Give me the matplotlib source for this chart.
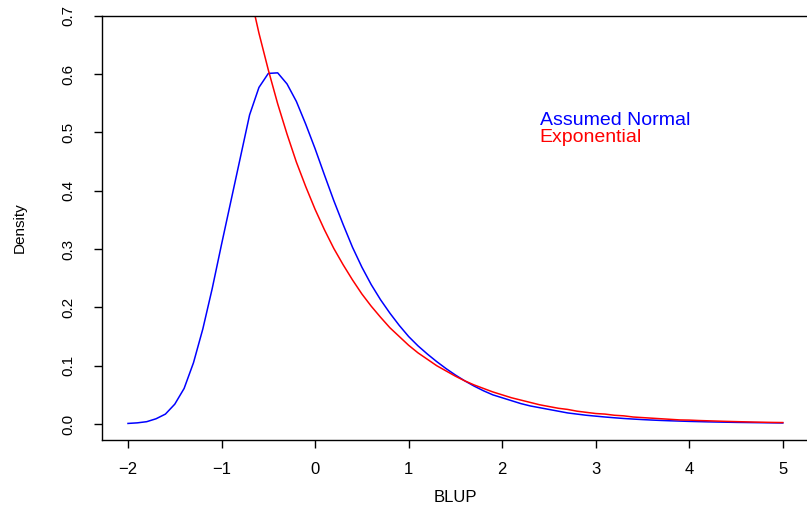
import matplotlib
matplotlib.use("Agg")
import matplotlib.pyplot as plt
import numpy as np

plt.rcParams['font.family'] = ['Liberation Sans', 'DejaVu Sans']

# x grid for the "Assumed Normal" curve (step 0.1 from -2 to 5)
x_normal = [round(-2.0 + 0.1 * i, 1) for i in range(71)]
y_normal = [
    0.001, 0.002, 0.004, 0.009, 0.017, 0.034, 0.061, 0.105, 0.163, 0.232,   # -2.0 .. -1.1
    0.308, 0.382, 0.456, 0.530, 0.577, 0.601, 0.602, 0.583, 0.553, 0.514,   # -1.0 .. -0.1
    0.472, 0.427, 0.383, 0.342, 0.303, 0.269, 0.239, 0.213, 0.190, 0.169,   # 0.0 .. 0.9
    0.150, 0.134, 0.120, 0.107, 0.095, 0.084, 0.074, 0.065, 0.057, 0.050,   # 1.0 .. 1.9
    0.045, 0.040, 0.035, 0.031, 0.028, 0.025, 0.022, 0.019, 0.017, 0.015,   # 2.0 .. 2.9
    0.0135, 0.012, 0.0107, 0.0095, 0.0085, 0.0076, 0.0068, 0.0061, 0.0055, 0.005,  # 3.0 .. 3.9
    0.0045, 0.0041, 0.0037, 0.0034, 0.0031, 0.0028, 0.0026, 0.0024, 0.0022, 0.002,  # 4.0 .. 4.9
    0.0018,                                                                   # 5.0
]

# x grid for the "Exponential" curve (visible part, step 0.1 from -0.7 to 5)
x_expo = [round(-0.7 + 0.1 * i, 1) for i in range(58)]
y_expo = [
    0.741, 0.670, 0.607, 0.549, 0.497, 0.449, 0.407,                          # -0.7 .. -0.1
    0.368, 0.333, 0.301, 0.273, 0.247, 0.223, 0.202, 0.183, 0.165, 0.150,    # 0.0 .. 0.9
    0.135, 0.122, 0.111, 0.100, 0.091, 0.082, 0.074, 0.067, 0.061, 0.055,    # 1.0 .. 1.9
    0.050, 0.045, 0.041, 0.037, 0.033, 0.030, 0.027, 0.025, 0.022, 0.020,    # 2.0 .. 2.9
    0.018, 0.017, 0.015, 0.014, 0.012, 0.011, 0.010, 0.009, 0.008, 0.007,    # 3.0 .. 3.9
    0.0067, 0.006, 0.0055, 0.005, 0.0045, 0.0041, 0.0037, 0.0033, 0.003, 0.0027,  # 4.0 .. 4.9
    0.0025,                                                                   # 5.0
]

x_ticks = [-2, -1, 0, 1, 2, 3, 4, 5]
y_ticks = [0.0, 0.1, 0.2, 0.3, 0.4, 0.5, 0.6, 0.7]
y_tick_labels = ["0.0", "0.1", "0.2", "0.3", "0.4", "0.5", "0.6", "0.7"]
legend_labels = ["Assumed Normal", "Exponential"]
colors = ["#0000FF", "#FF0000"]

W, H = 807, 505
fig = plt.figure(figsize=(W / 100, H / 100), dpi=100)
left_px, right_px, top_px, bottom_px = 101.8, 809.0, 15.5, 440.0
ax = fig.add_axes([left_px / W, 1 - bottom_px / H,
                   (right_px - left_px) / W, (bottom_px - top_px) / H])

ax.plot(x_normal, y_normal, color=colors[0], lw=1.1)
ax.plot(x_expo, y_expo, color=colors[1], lw=1.1)

ax.set_xlim(-2.28, 5.28)
ax.set_ylim(-0.0274, 0.7003)

for s in ax.spines.values():
    s.set_linewidth(1.0)
    s.set_color("black")

ax.set_xticks(x_ticks)
ax.set_xticklabels([("\u2212%d" % -v) if v < 0 else str(v) for v in x_ticks])
ax.set_yticks(y_ticks)
ax.set_yticklabels(y_tick_labels, rotation=90, va="center")
ax.tick_params(axis="x", direction="out", length=5.8, width=1.0, pad=9.7, labelsize=12)
ax.tick_params(axis="y", direction="out", length=5.8, width=1.0, pad=13.5, labelsize=11)

ax.set_xlabel("BLUP", fontsize=12, labelpad=10)
ax.set_ylabel("Density", fontsize=11, labelpad=25)

ax.text(2.40, 0.521, legend_labels[0], color=colors[0], fontsize=14, va="center", ha="left")
ax.text(2.40, 0.491, legend_labels[1], color=colors[1], fontsize=14, va="center", ha="left")

fig.savefig("out.png", dpi=100)
